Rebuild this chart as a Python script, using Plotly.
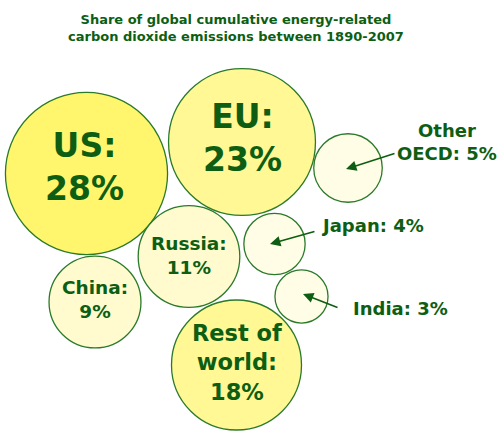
import plotly.graph_objects as go
import math

# Data
regions = ["US", "EU", "Other OECD", "Russia", "Japan", "China", "India", "Rest of world"]
shares = [28, 23, 5, 11, 4, 9, 3, 18]
labels = ["US:<br>28%", "EU:<br>23%", "Other<br>OECD: 5%", "Russia:<br>11%",
          "Japan: 4%", "China:<br>9%", "India: 3%", "Rest of<br>world:<br>18%"]

# Layout (pixel-like data coordinates)
cx = [86.5, 242, 348, 189, 274.5, 95, 301.5, 236.5]
cy = [173.5, 142, 168, 256.5, 244, 302, 296.5, 365]
fills = ["#fff66e", "#fff894", "#fffde6", "#fffbce", "#fffde6", "#fffbce", "#fffde6", "#fff894"]
SCALE = 15.32  # px radius per sqrt(percent)

GREEN = "#0d5e12"
EDGE = "#2b7a2b"
FONT = "DejaVu Sans"

fig = go.Figure()
fig.add_trace(go.Scatter(
    x=cx, y=cy, mode="markers",
    marker=dict(size=[2 * SCALE * math.sqrt(s) for s in shares], sizemode="diameter",
                color=fills, line=dict(color=EDGE, width=1.3), opacity=1),
    hoverinfo="text", text=regions, showlegend=False,
))

# In-circle labels
inside = {0: 33, 1: 33, 3: 18.5, 5: 18.5, 7: 22.5}
text_pos = {0: (84, 167), 1: (242, 138), 3: (189, 255), 5: (95, 299), 7: (237, 362)}
for i, fs in inside.items():
    x, y = text_pos[i]
    fig.add_annotation(x=x, y=y, xref="x", yref="y", text=labels[i], showarrow=False,
                       font=dict(family=FONT, size=fs, color=GREEN, weight="bold"),
                       align="center")

# Outside labels with arrows
outside = {
    2: dict(tx=447, ty=142, ax=396, ay=153, hx=346, hy=169),
    4: dict(tx=372, ty=225, ax=316, ay=231, hx=270, hy=244),
    6: dict(tx=400, ty=308, ax=339, ay=308, hx=303, hy=294),
}
for i, d in outside.items():
    fig.add_annotation(x=d["tx"], y=d["ty"], xref="x", yref="y", text=labels[i], showarrow=False,
                       font=dict(family=FONT, size=18, color=GREEN, weight="bold"), align="center")
    fig.add_annotation(x=d["hx"], y=d["hy"], ax=d["ax"], ay=d["ay"], xref="x", yref="y",
                       axref="x", ayref="y", text="", showarrow=True, arrowhead=2,
                       arrowsize=1.3, arrowwidth=1.6, arrowcolor=GREEN)

fig.add_annotation(x=236, y=28, xref="x", yref="y", showarrow=False,
                   text="Share of global cumulative energy-related<br>carbon dioxide emissions between 1890-2007",
                   font=dict(family=FONT, size=13, color=GREEN, weight="bold"), align="center")

fig.update_layout(
    width=500, height=436, margin=dict(l=0, r=0, t=0, b=0),
    paper_bgcolor="white", plot_bgcolor="white",
    xaxis=dict(range=[0, 500], visible=False, fixedrange=True),
    yaxis=dict(range=[436, 0], visible=False, fixedrange=True),
)
fig.write_html("out.html", config={"displayModeBar": False},
               post_script="document.body.style.margin='0';document.body.style.overflow='hidden';")
